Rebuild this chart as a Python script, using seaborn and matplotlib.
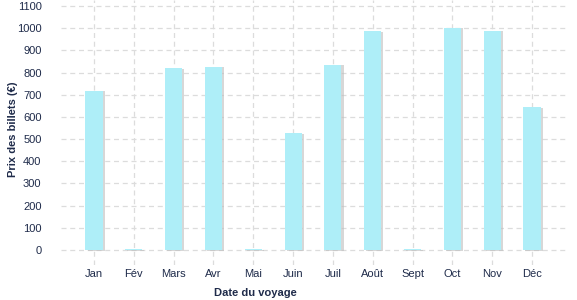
import matplotlib
matplotlib.use("Agg")
import matplotlib.pyplot as plt
import matplotlib.patheffects as pe
import seaborn as sns
import pandas as pd

months = ["Jan", "Fév", "Mars", "Avr", "Mai", "Juin", "Juil", "Août", "Sept", "Oct", "Nov", "Déc"]
prices = [718, 3, 821, 826, 3, 528, 836, 986, 3, 1002, 989, 645]
yticks = [0, 100, 200, 300, 400, 500, 600, 700, 800, 900, 1000, 1100]

sns.set_theme(style="white")
plt.rcParams["font.family"] = ["Liberation Sans", "DejaVu Sans"]

text_col = "#1f2b4a"
grid_col = "#dcdcdc"

df = pd.DataFrame({"mois": months, "prix": prices})

fig = plt.figure(figsize=(5.77, 3.0), dpi=100)
ax = fig.add_axes([61 / 577, 1 - 265 / 300, 506 / 577, 265 / 300])

sns.barplot(data=df, x="mois", y="prix", order=months, color="#aeeef8",
            width=0.43, saturation=1, linewidth=0, ax=ax, zorder=3)
for p in ax.patches:
    p.set_path_effects([pe.SimplePatchShadow(offset=(1.5, -0.5), shadow_rgbFace="#bdbdbd", alpha=0.6),
                        pe.Normal()])

ax.set_ylim(-68, 1127)
ax.set_xlim(-0.83, 11.88)
ax.set_yticks(yticks)
ax.set_yticklabels([str(v) for v in yticks])

for v in yticks:
    ax.axhline(v, color=grid_col, lw=0.9, ls=(0, (4, 3)), zorder=1)
for i in range(len(months)):
    ax.axvline(i, color=grid_col, lw=0.9, ls=(0, (4, 3)), zorder=1)

for s in ax.spines.values():
    s.set_visible(False)
ax.tick_params(axis="both", length=0, colors=text_col, labelsize=8)
ax.tick_params(axis="y", pad=14)
ax.tick_params(axis="x", pad=3)

ax.set_xlabel("")
ax.set_ylabel("")
fig.text(255 / 577, 1 - 293 / 300, "Date du voyage", ha="center", va="center",
         fontsize=8, fontweight="bold", color=text_col)
fig.text(13 / 577, 1 - 129 / 300, "Prix des billets (€)", ha="center", va="center",
         rotation=90, fontsize=8, fontweight="bold", color=text_col)

fig.savefig("out.png", dpi=100)
